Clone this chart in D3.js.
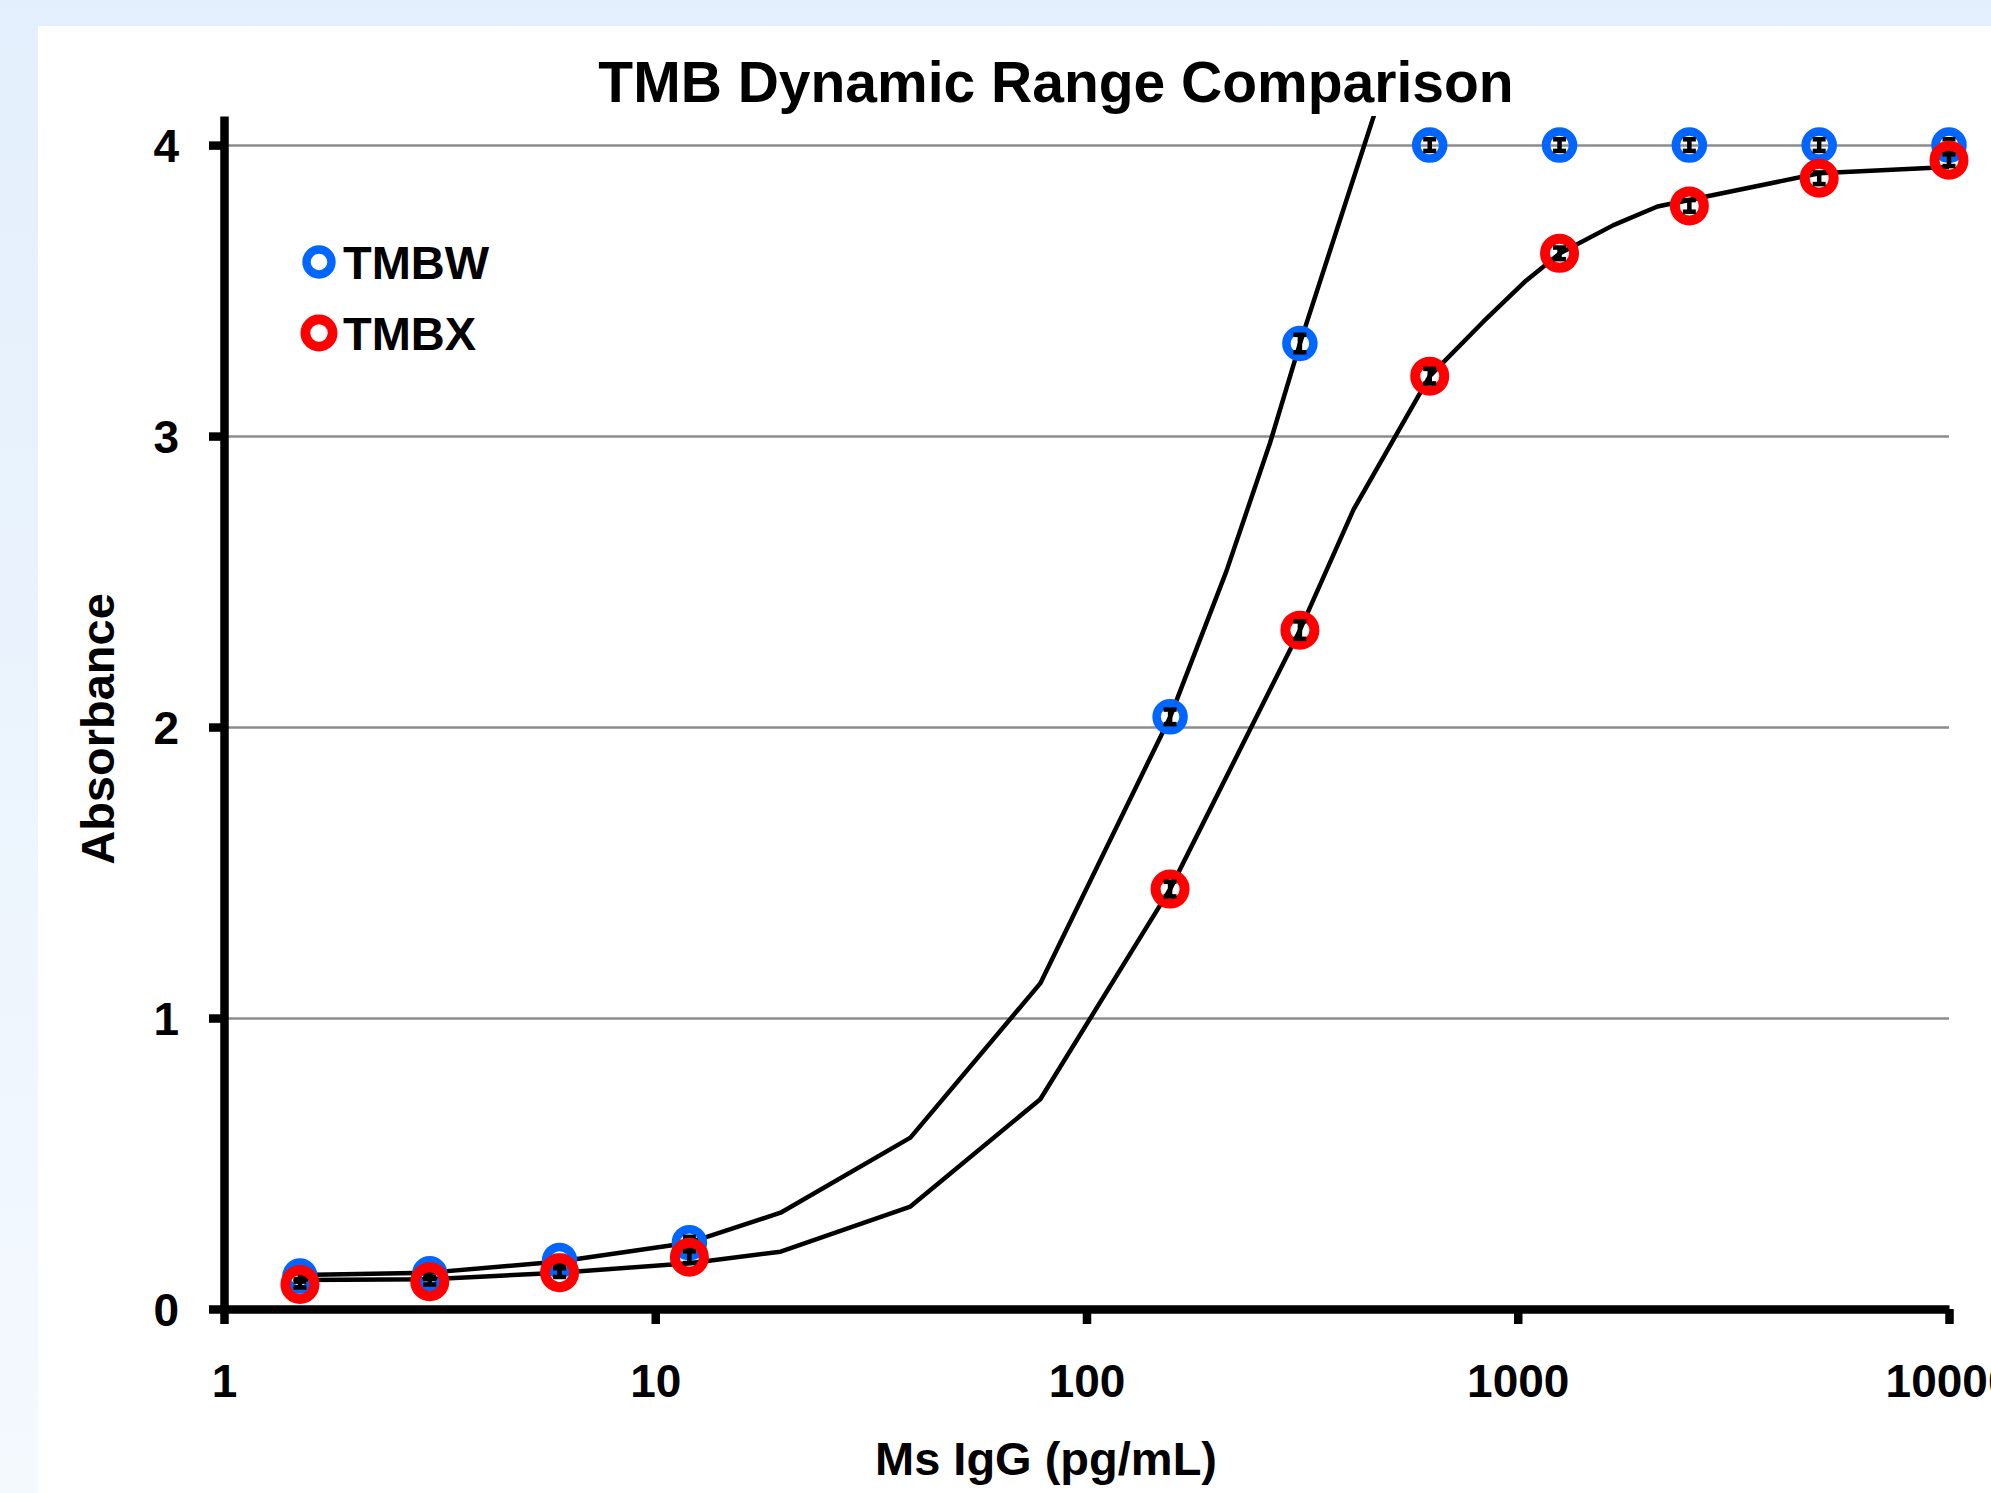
<!DOCTYPE html>
<html>
<head>
<meta charset="utf-8">
<title>TMB Dynamic Range Comparison</title>
<style>
  body { margin: 0; overflow: hidden; }
  svg text { font-family: "Liberation Sans", Arial, sans-serif; font-weight: bold; fill: #000; }
</style>
</head>
<body>
<svg id="chart" width="1991" height="1493"></svg>
<script src="https://cdn.jsdelivr.net/npm/d3@7/dist/d3.min.js"></script>
<script>
// measured points (pg/mL) and absorbance
const conc = [1.5, 3, 6, 12, 156.25, 312.5, 625, 1250, 2500, 5000, 10000]
const tmbw = [0.113, 0.121, 0.167, 0.228, 2.035, 3.318, 4.0, 4.0, 4.0, 4.0, 4.0]
const tmbwErr = [0.01, 0.01, 0.015, 0.02, 0.025, 0.03, 0.02, 0.02, 0.02, 0.02, 0.02]
const tmbx = [0.084, 0.094, 0.125, 0.178, 1.443, 2.333, 3.206, 3.628, 3.791, 3.886, 3.948]
const tmbxErr = [0.01, 0.01, 0.015, 0.02, 0.025, 0.03, 0.025, 0.02, 0.02, 0.02, 0.02]

// fitted curves (black lines)
const fitWx = [1.5, 3, 6, 12, 19.53, 39.06, 78.13, 156.25, 211, 266.5, 312.5, 500]
const fitWy = [0.117, 0.125, 0.163, 0.228, 0.331, 0.589, 1.119, 2.034, 2.535, 2.977, 3.318, 4.25]
const fitXx = [1.5, 3, 6, 12, 19.53, 39.06, 78.13, 156.25, 312.5, 416, 625, 832, 1045, 1253, 1667, 2109, 5000, 10000]
const fitXy = [0.100, 0.102, 0.125, 0.157, 0.197, 0.352, 0.721, 1.443, 2.333, 2.747, 3.206, 3.393, 3.534, 3.628, 3.725, 3.789, 3.903, 3.925]

const xTicks = [1, 10, 100, 1000, 10000]
const yTicks = [0, 1, 2, 3, 4]
const seriesNames = ["TMBW", "TMBX"]

const W = 1991, H = 1493
const pLeft = 224, pRight = 1949, pTop = 116, pBottom = 1309

const svg = d3.select("#chart")

// background: light blue frame and white panel
const defs = svg.append("defs")
const grad = defs.append("linearGradient")
  .attr("id", "bg").attr("x1", 0).attr("y1", 0).attr("x2", 0).attr("y2", 1)
grad.append("stop").attr("offset", "0%").attr("stop-color", "#e3effc")
grad.append("stop").attr("offset", "100%").attr("stop-color", "#f4f9fe")
svg.append("rect").attr("width", W).attr("height", H).attr("fill", "url(#bg)")
svg.append("rect").attr("x", 38).attr("y", 26).attr("width", W - 38).attr("height", H - 26).attr("fill", "#fff")

defs.append("clipPath").attr("id", "plotclip")
  .append("rect").attr("x", pLeft).attr("y", pTop).attr("width", W - pLeft).attr("height", pBottom - pTop)

const x = d3.scaleLog().domain([1, 10000]).range([pLeft, pRight])
const y = d3.scaleLinear().domain([0, 4.1]).range([pBottom, pTop])

// grid lines
svg.append("g")
  .attr("transform", `translate(${pLeft},0)`)
  .call(d3.axisLeft(y).tickValues([1, 2, 3, 4]).tickSize(-(pRight - pLeft)).tickFormat(""))
  .call(g => g.select(".domain").remove())
  .call(g => g.selectAll("line").attr("stroke", "#8c8c8c").attr("stroke-width", 2.5))

// curves
const line = d3.line().x(d => x(d[0])).y(d => y(d[1]))
const curves = [d3.zip(fitWx, fitWy), d3.zip(fitXx, fitXy)]
svg.append("g").attr("clip-path", "url(#plotclip)")
  .selectAll("path").data(curves).enter().append("path")
  .attr("d", line)
  .attr("fill", "none").attr("stroke", "#000").attr("stroke-width", 4.5)
  .attr("stroke-linejoin", "round")

// markers with error bars
function drawSeries(vals, errs, color, r, sw) {
  const pts = d3.zip(conc, vals, errs)
  const g = svg.append("g")
  g.selectAll("circle").data(pts).enter().append("circle")
    .attr("cx", d => x(d[0])).attr("cy", d => y(d[1])).attr("r", r)
    .attr("fill", "none").attr("stroke", color).attr("stroke-width", sw)
  const eb = g.selectAll("g.err").data(pts).enter().append("g")
    .attr("stroke", "#000").attr("stroke-width", 4.5)
  eb.append("line")
    .attr("x1", d => x(d[0])).attr("x2", d => x(d[0]))
    .attr("y1", d => y(d[1] - d[2])).attr("y2", d => y(d[1] + d[2]))
  eb.append("line")
    .attr("x1", d => x(d[0]) - 6.5).attr("x2", d => x(d[0]) + 6.5)
    .attr("y1", d => y(d[1] - d[2])).attr("y2", d => y(d[1] - d[2]))
  eb.append("line")
    .attr("x1", d => x(d[0]) - 6.5).attr("x2", d => x(d[0]) + 6.5)
    .attr("y1", d => y(d[1] + d[2])).attr("y2", d => y(d[1] + d[2]))
}
drawSeries(tmbw, tmbwErr, "#0066ff", 13.5, 8.5)
drawSeries(tmbx, tmbxErr, "#ff0000", 14.5, 10)

// axes
const xAxis = svg.append("g")
  .attr("transform", `translate(0,${pBottom})`)
  .call(d3.axisBottom(x).tickValues(xTicks).tickFormat(d3.format("d")).tickSize(15).tickSizeOuter(0))
const yAxis = svg.append("g")
  .attr("transform", `translate(${pLeft},0)`)
  .call(d3.axisLeft(y).tickValues(yTicks).tickFormat(d3.format("d")).tickSize(15).tickSizeOuter(0))
;[xAxis, yAxis].forEach(a => {
  a.select(".domain").attr("stroke", "#000").attr("stroke-width", 8.5)
  a.selectAll(".tick line").attr("stroke", "#000").attr("stroke-width", 8.5)
  a.selectAll("text").style("font-size", "46px").attr("fill", "#000")
})
xAxis.selectAll("text").attr("y", 88).attr("dy", 0)
yAxis.selectAll("text").attr("x", -45).attr("dy", "0.36em")

// title and axis titles
svg.append("text").attr("x", 1056).attr("y", 102).attr("text-anchor", "middle")
  .style("font-size", "57px").text("TMB Dynamic Range Comparison")
svg.append("text").attr("x", 1046).attr("y", 1475).attr("text-anchor", "middle")
  .style("font-size", "47px").text("Ms IgG (pg/mL)")
svg.append("text").attr("transform", "translate(114,729) rotate(-90)").attr("text-anchor", "middle")
  .style("font-size", "47px").text("Absorbance")

// legend
const legend = [
  { name: seriesNames[0], color: "#0066ff", r: 12.5, sw: 8.4, cy: 262 },
  { name: seriesNames[1], color: "#ff0000", r: 13.6, sw: 9.8, cy: 333 }
]
const lg = svg.append("g")
lg.selectAll("circle").data(legend).enter().append("circle")
  .attr("cx", 319).attr("cy", d => d.cy).attr("r", d => d.r)
  .attr("fill", "none").attr("stroke", d => d.color).attr("stroke-width", d => d.sw)
lg.selectAll("text").data(legend).enter().append("text")
  .attr("x", 343).attr("y", d => d.cy + 17)
  .style("font-size", "47px").text(d => d.name)
</script>
</body>
</html>
